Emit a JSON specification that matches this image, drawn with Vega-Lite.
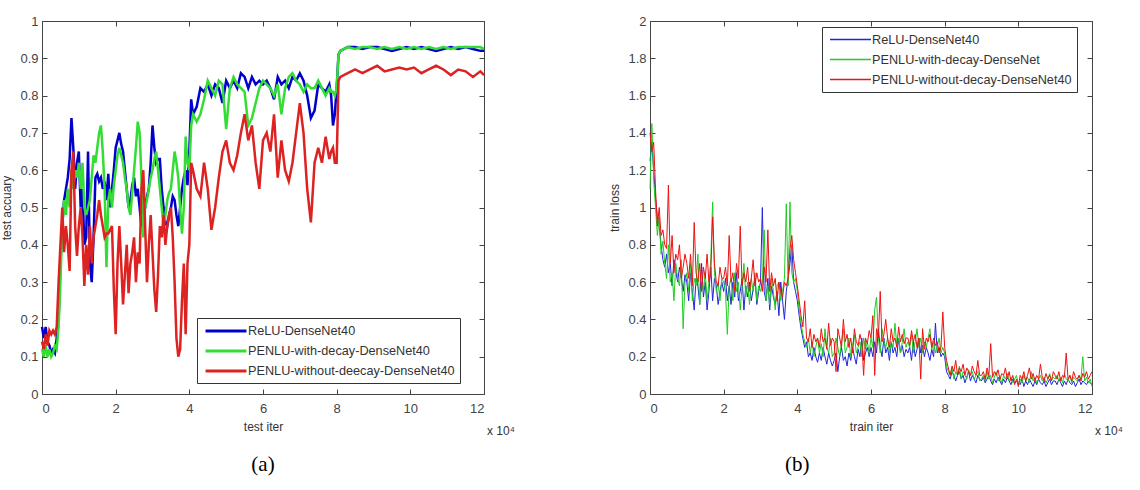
{
"$schema": "https://vega.github.io/schema/vega-lite/v6.json",
"background": "white",
"padding": {"left": 0, "top": 14, "right": 0, "bottom": 0},
"spacing": 166,
"bounds": "flush",
"config": {
  "view": {"stroke": "#444", "strokeWidth": 1},
  "font": "Liberation Sans",
  "axis": {"grid": false, "domain": false, "tickColor": "#444", "tickSize": -5, "labelColor": "#444", "labelFont": "Liberation Sans", "labelFontSize": 13, "titleFont": "Liberation Sans", "titleFontSize": 12, "titleFontWeight": "normal", "titleColor": "#333"},
  "legend": {"orient": "none", "strokeColor": "#333", "fillColor": "#ffffff", "padding": 5, "symbolType": "M-3.15,0H3.15", "symbolSize": 169, "labelFont": "Liberation Sans", "labelFontSize": 12.7, "labelColor": "#333", "labelLimit": 400, "rowPadding": 5, "symbolOffset": 16, "labelOffset": 14}
},
"datasets": {
"acc": [
{"x":0,"a":0.18,"b":0.12,"c":0.14},{"x":0.05,"a":0.15,"b":0.10,"c":0.12},{"x":0.1,"a":0.18,"b":0.13,"c":0.16},{"x":0.15,"a":0.14,"b":0.10,"c":0.13},{"x":0.2,"a":0.13,"b":0.12,"c":0.17},{"x":0.25,"a":0.11,"b":0.10,"c":0.16},{"x":0.3,"a":0.12,"b":0.11,"c":0.17},{"x":0.35,"a":0.11,"b":0.13,"c":0.16},{"x":0.4,"a":0.15,"b":0.12,"c":0.18},{"x":0.45,"a":0.20,"b":0.18,"c":0.30},
{"x":0.5,"a":0.35,"b":0.30,"c":0.40},{"x":0.55,"a":0.45,"b":0.45,"c":0.50},{"x":0.6,"a":0.52,"b":0.52,"c":0.38},{"x":0.65,"a":0.55,"b":0.48,"c":0.45},{"x":0.7,"a":0.58,"b":0.55,"c":0.40},{"x":0.75,"a":0.63,"b":0.50,"c":0.33},{"x":0.8,"a":0.74,"b":0.60,"c":0.60},{"x":0.85,"a":0.66,"b":0.55,"c":0.65},{"x":0.9,"a":0.55,"b":0.60,"c":0.45},{"x":0.95,"a":0.62,"b":0.58,"c":0.37},
{"x":1.0,"a":0.65,"b":0.62,"c":0.45},{"x":1.05,"a":0.50,"b":0.55,"c":0.50},{"x":1.1,"a":0.55,"b":0.62,"c":0.42},{"x":1.15,"a":0.40,"b":0.50,"c":0.29},{"x":1.2,"a":0.42,"b":0.48,"c":0.40},{"x":1.25,"a":0.65,"b":0.50,"c":0.32},{"x":1.3,"a":0.35,"b":0.52,"c":0.45},{"x":1.35,"a":0.30,"b":0.58,"c":0.35},{"x":1.4,"a":0.42,"b":0.64,"c":0.42},{"x":1.45,"a":0.58,"b":0.62,"c":0.45},
{"x":1.5,"a":0.59,"b":0.66,"c":0.48},{"x":1.55,"a":0.57,"b":0.70,"c":0.52},{"x":1.6,"a":0.58,"b":0.72,"c":0.48},{"x":1.65,"a":0.55,"b":0.65,"c":0.45},{"x":1.7,"a":0.57,"b":0.55,"c":0.42},{"x":1.75,"a":0.52,"b":0.34,"c":0.43},{"x":1.8,"a":0.59,"b":0.52,"c":0.43},{"x":1.85,"a":0.50,"b":0.55,"c":0.44},{"x":1.9,"a":0.55,"b":0.50,"c":0.45},{"x":1.95,"a":0.60,"b":0.56,"c":0.28},
{"x":2.0,"a":0.66,"b":0.60,"c":0.16},{"x":2.05,"a":0.68,"b":0.64,"c":0.35},{"x":2.1,"a":0.70,"b":0.66,"c":0.45},{"x":2.15,"a":0.67,"b":0.64,"c":0.35},{"x":2.2,"a":0.65,"b":0.62,"c":0.24},{"x":2.25,"a":0.60,"b":0.58,"c":0.32},{"x":2.3,"a":0.55,"b":0.55,"c":0.40},{"x":2.35,"a":0.50,"b":0.50,"c":0.27},{"x":2.4,"a":0.52,"b":0.48,"c":0.35},{"x":2.45,"a":0.56,"b":0.54,"c":0.38},
{"x":2.5,"a":0.58,"b":0.60,"c":0.42},{"x":2.55,"a":0.53,"b":0.66,"c":0.30},{"x":2.6,"a":0.55,"b":0.73,"c":0.38},{"x":2.65,"a":0.50,"b":0.70,"c":0.35},{"x":2.7,"a":0.45,"b":0.58,"c":0.55},{"x":2.75,"a":0.48,"b":0.42,"c":0.60},{"x":2.8,"a":0.50,"b":0.50,"c":0.45},{"x":2.85,"a":0.53,"b":0.52,"c":0.30},{"x":2.9,"a":0.55,"b":0.55,"c":0.40},{"x":2.95,"a":0.62,"b":0.58,"c":0.48},
{"x":3.0,"a":0.72,"b":0.60,"c":0.38},{"x":3.05,"a":0.66,"b":0.63,"c":0.28},{"x":3.1,"a":0.62,"b":0.65,"c":0.22},{"x":3.15,"a":0.63,"b":0.60,"c":0.32},{"x":3.2,"a":0.63,"b":0.55,"c":0.45},{"x":3.25,"a":0.55,"b":0.50,"c":0.42},{"x":3.3,"a":0.50,"b":0.45,"c":0.48},{"x":3.35,"a":0.46,"b":0.48,"c":0.40},{"x":3.4,"a":0.45,"b":0.52,"c":0.45},{"x":3.45,"a":0.48,"b":0.54,"c":0.48},
{"x":3.5,"a":0.50,"b":0.55,"c":0.50},{"x":3.55,"a":0.53,"b":0.60,"c":0.42},{"x":3.6,"a":0.52,"b":0.65,"c":0.30},{"x":3.65,"a":0.48,"b":0.62,"c":0.15},{"x":3.7,"a":0.45,"b":0.58,"c":0.10},{"x":3.75,"a":0.50,"b":0.50,"c":0.12},{"x":3.8,"a":0.55,"b":0.43,"c":0.25},{"x":3.85,"a":0.58,"b":0.50,"c":0.35},{"x":3.9,"a":0.60,"b":0.69,"c":0.16},{"x":3.95,"a":0.56,"b":0.62,"c":0.35},
{"x":4.0,"a":0.65,"b":0.60,"c":0.40},{"x":4.05,"a":0.79,"b":0.72,"c":0.62},{"x":4.1,"a":0.75,"b":0.75,"c":0.60},{"x":4.2,"a":0.77,"b":0.73,"c":0.55},{"x":4.3,"a":0.82,"b":0.75,"c":0.53},{"x":4.4,"a":0.81,"b":0.79,"c":0.62},{"x":4.5,"a":0.83,"b":0.84,"c":0.55},{"x":4.6,"a":0.80,"b":0.82,"c":0.44},{"x":4.7,"a":0.83,"b":0.80,"c":0.50},{"x":4.8,"a":0.82,"b":0.84,"c":0.58},{"x":4.9,"a":0.78,"b":0.83,"c":0.65},
{"x":5.0,"a":0.84,"b":0.71,"c":0.68},{"x":5.1,"a":0.82,"b":0.82,"c":0.62},{"x":5.2,"a":0.84,"b":0.85,"c":0.60},{"x":5.3,"a":0.82,"b":0.83,"c":0.64},{"x":5.4,"a":0.86,"b":0.82,"c":0.70},{"x":5.5,"a":0.85,"b":0.81,"c":0.75},{"x":5.6,"a":0.82,"b":0.72,"c":0.68},{"x":5.7,"a":0.85,"b":0.74,"c":0.72},{"x":5.8,"a":0.83,"b":0.78,"c":0.62},{"x":5.9,"a":0.84,"b":0.82,"c":0.55},
{"x":6.0,"a":0.83,"b":0.84,"c":0.68},{"x":6.1,"a":0.84,"b":0.83,"c":0.70},{"x":6.2,"a":0.82,"b":0.82,"c":0.65},{"x":6.3,"a":0.79,"b":0.80,"c":0.75},{"x":6.4,"a":0.85,"b":0.83,"c":0.58},{"x":6.5,"a":0.83,"b":0.75,"c":0.68},{"x":6.6,"a":0.84,"b":0.82,"c":0.60},{"x":6.7,"a":0.82,"b":0.85,"c":0.57},{"x":6.8,"a":0.85,"b":0.86,"c":0.62},{"x":6.9,"a":0.84,"b":0.84,"c":0.70},
{"x":7.0,"a":0.86,"b":0.83,"c":0.78},{"x":7.1,"a":0.84,"b":0.81,"c":0.70},{"x":7.2,"a":0.80,"b":0.83,"c":0.55},{"x":7.3,"a":0.74,"b":0.82,"c":0.46},{"x":7.4,"a":0.76,"b":0.82,"c":0.62},{"x":7.5,"a":0.83,"b":0.84,"c":0.66},{"x":7.6,"a":0.82,"b":0.82,"c":0.62},{"x":7.7,"a":0.81,"b":0.80,"c":0.69},{"x":7.8,"a":0.83,"b":0.82,"c":0.63},{"x":7.85,"a":0.80,"b":0.81,"c":0.65},{"x":7.9,"a":0.72,"b":0.81,"c":0.66},{"x":7.95,"a":0.75,"b":0.80,"c":0.62},
{"x":8.0,"a":0.82,"b":0.82,"c":0.62},{"x":8.05,"a":0.91,"b":0.91,"c":0.84},{"x":8.1,"a":0.92,"b":0.92,"c":0.85},{"x":8.3,"a":0.93,"b":0.93,"c":0.86},{"x":8.5,"a":0.93,"b":0.925,"c":0.87},{"x":8.7,"a":0.925,"b":0.93,"c":0.86},{"x":8.9,"a":0.93,"b":0.93,"c":0.87},{"x":9.1,"a":0.93,"b":0.925,"c":0.88},{"x":9.3,"a":0.925,"b":0.93,"c":0.865},{"x":9.5,"a":0.92,"b":0.925,"c":0.87},
{"x":9.7,"a":0.925,"b":0.93,"c":0.875},{"x":9.9,"a":0.93,"b":0.925,"c":0.87},{"x":10.1,"a":0.925,"b":0.93,"c":0.875},{"x":10.3,"a":0.93,"b":0.925,"c":0.86},{"x":10.5,"a":0.925,"b":0.93,"c":0.87},{"x":10.7,"a":0.92,"b":0.925,"c":0.88},{"x":10.9,"a":0.925,"b":0.93,"c":0.87},{"x":11.1,"a":0.93,"b":0.925,"c":0.855},{"x":11.3,"a":0.925,"b":0.93,"c":0.87},{"x":11.5,"a":0.93,"b":0.93,"c":0.865},{"x":11.7,"a":0.925,"b":0.93,"c":0.85},{"x":11.9,"a":0.92,"b":0.93,"c":0.865},{"x":12,"a":0.92,"b":0.925,"c":0.855}
],
"loss": [
{"x":0,"a":1.25,"b":1.1,"c":1.4},{"x":0.05,"a":1.35,"b":1.45,"c":1.3},{"x":0.1,"a":1.2,"b":1.15,"c":1.35},{"x":0.15,"a":1.05,"b":1.0,"c":1.1},{"x":0.2,"a":0.95,"b":0.85,"c":0.9},{"x":0.25,"a":0.9,"b":0.95,"c":1.0},{"x":0.3,"a":0.8,"b":0.75,"c":0.85},{"x":0.35,"a":0.72,"b":0.82,"c":0.88},{"x":0.4,"a":0.68,"b":0.7,"c":0.8},{"x":0.45,"a":0.75,"b":0.62,"c":0.78},
{"x":0.5,"a":0.65,"b":0.8,"c":1.12},{"x":0.55,"a":0.7,"b":0.6,"c":0.7},{"x":0.6,"a":0.58,"b":0.65,"c":0.85},{"x":0.65,"a":0.72,"b":0.5,"c":0.65},{"x":0.7,"a":0.66,"b":0.7,"c":0.75},{"x":0.75,"a":0.6,"b":0.62,"c":0.72},{"x":0.8,"a":0.68,"b":0.58,"c":0.8},{"x":0.85,"a":0.62,"b":0.72,"c":0.62},{"x":0.9,"a":0.55,"b":0.35,"c":0.68},{"x":0.95,"a":0.64,"b":0.6,"c":0.75},
{"x":1.0,"a":0.6,"b":0.65,"c":0.7},{"x":1.05,"a":0.5,"b":0.55,"c":0.62},{"x":1.1,"a":0.65,"b":0.7,"c":0.75},{"x":1.15,"a":0.55,"b":0.5,"c":0.58},{"x":1.2,"a":0.45,"b":0.62,"c":0.92},{"x":1.25,"a":0.62,"b":0.58,"c":0.65},{"x":1.3,"a":0.58,"b":0.75,"c":0.6},{"x":1.35,"a":0.48,"b":0.48,"c":0.7},{"x":1.4,"a":0.7,"b":0.6,"c":0.55},{"x":1.45,"a":0.52,"b":0.55,"c":0.68},
{"x":1.5,"a":0.6,"b":0.65,"c":0.62},{"x":1.55,"a":0.45,"b":0.5,"c":0.75},{"x":1.6,"a":0.55,"b":0.6,"c":0.6},{"x":1.65,"a":0.68,"b":0.72,"c":0.65},{"x":1.7,"a":0.5,"b":1.03,"c":0.95},{"x":1.75,"a":0.62,"b":0.65,"c":0.7},{"x":1.8,"a":0.58,"b":0.55,"c":0.6},{"x":1.85,"a":0.48,"b":0.6,"c":0.58},{"x":1.9,"a":0.55,"b":0.5,"c":0.68},{"x":1.95,"a":0.6,"b":0.62,"c":0.62},
{"x":2.0,"a":0.55,"b":0.6,"c":0.62},{"x":2.05,"a":0.62,"b":0.55,"c":0.68},{"x":2.1,"a":0.5,"b":0.32,"c":0.58},{"x":2.15,"a":0.58,"b":0.58,"c":0.85},{"x":2.2,"a":0.48,"b":0.62,"c":0.6},{"x":2.25,"a":0.6,"b":0.5,"c":0.65},{"x":2.3,"a":0.52,"b":0.65,"c":0.55},{"x":2.35,"a":0.65,"b":0.55,"c":0.7},{"x":2.4,"a":0.5,"b":0.6,"c":0.62},{"x":2.45,"a":0.55,"b":0.45,"c":0.9},
{"x":2.5,"a":0.62,"b":0.58,"c":0.58},{"x":2.55,"a":0.45,"b":0.7,"c":0.65},{"x":2.6,"a":0.58,"b":0.52,"c":0.6},{"x":2.65,"a":0.52,"b":0.6,"c":0.68},{"x":2.7,"a":0.6,"b":0.48,"c":0.55},{"x":2.75,"a":0.5,"b":0.62,"c":0.62},{"x":2.8,"a":0.56,"b":0.55,"c":0.72},{"x":2.85,"a":0.62,"b":0.65,"c":0.58},{"x":2.9,"a":0.48,"b":0.5,"c":0.65},{"x":2.95,"a":0.55,"b":0.58,"c":0.6},
{"x":3.0,"a":0.6,"b":0.55,"c":0.62},{"x":3.05,"a":1.0,"b":0.6,"c":0.55},{"x":3.1,"a":0.55,"b":0.88,"c":0.68},{"x":3.15,"a":0.5,"b":0.5,"c":0.6},{"x":3.2,"a":0.62,"b":0.58,"c":0.88},{"x":3.25,"a":0.45,"b":0.48,"c":0.55},{"x":3.3,"a":0.58,"b":0.62,"c":0.65},{"x":3.35,"a":0.52,"b":0.55,"c":0.58},{"x":3.4,"a":0.48,"b":0.45,"c":0.62},{"x":3.45,"a":0.55,"b":0.58,"c":0.5},
{"x":3.5,"a":0.42,"b":0.6,"c":0.6},{"x":3.55,"a":0.6,"b":0.5,"c":0.55},{"x":3.6,"a":0.5,"b":0.55,"c":0.52},{"x":3.65,"a":0.4,"b":0.62,"c":0.6},{"x":3.7,"a":0.55,"b":1.02,"c":0.58},{"x":3.75,"a":0.62,"b":0.58,"c":0.62},{"x":3.8,"a":0.7,"b":1.03,"c":0.78},{"x":3.85,"a":0.8,"b":0.65,"c":0.85},{"x":3.9,"a":0.6,"b":0.6,"c":0.72},{"x":3.95,"a":0.55,"b":0.62,"c":0.65},
{"x":4.0,"a":0.5,"b":0.55,"c":0.58},{"x":4.05,"a":0.42,"b":0.45,"c":0.5},{"x":4.1,"a":0.35,"b":0.38,"c":0.42},{"x":4.15,"a":0.3,"b":0.32,"c":0.36},{"x":4.2,"a":0.25,"b":0.28,"c":0.5},{"x":4.25,"a":0.28,"b":0.25,"c":0.3},{"x":4.3,"a":0.2,"b":0.3,"c":0.28},{"x":4.35,"a":0.22,"b":0.22,"c":0.35},{"x":4.4,"a":0.18,"b":0.28,"c":0.25},{"x":4.45,"a":0.25,"b":0.2,"c":0.32},
{"x":4.5,"a":0.2,"b":0.25,"c":0.28},{"x":4.55,"a":0.17,"b":0.3,"c":0.3},{"x":4.6,"a":0.22,"b":0.22,"c":0.25},{"x":4.65,"a":0.18,"b":0.27,"c":0.35},{"x":4.7,"a":0.25,"b":0.2,"c":0.28},{"x":4.75,"a":0.2,"b":0.35,"c":0.3},{"x":4.8,"a":0.16,"b":0.25,"c":0.24},{"x":4.85,"a":0.22,"b":0.22,"c":0.38},{"x":4.9,"a":0.18,"b":0.3,"c":0.26},{"x":4.95,"a":0.15,"b":0.2,"c":0.3},
{"x":5.0,"a":0.18,"b":0.22,"c":0.28},{"x":5.05,"a":0.22,"b":0.3,"c":0.12},{"x":5.1,"a":0.12,"b":0.25,"c":0.35},{"x":5.15,"a":0.2,"b":0.2,"c":0.3},{"x":5.2,"a":0.25,"b":0.28,"c":0.25},{"x":5.25,"a":0.18,"b":0.35,"c":0.4},{"x":5.3,"a":0.2,"b":0.22,"c":0.28},{"x":5.35,"a":0.15,"b":0.25,"c":0.32},{"x":5.4,"a":0.22,"b":0.3,"c":0.25},{"x":5.45,"a":0.18,"b":0.2,"c":0.3},
{"x":5.5,"a":0.25,"b":0.26,"c":0.22},{"x":5.55,"a":0.2,"b":0.32,"c":0.35},{"x":5.6,"a":0.16,"b":0.22,"c":0.28},{"x":5.65,"a":0.24,"b":0.25,"c":0.26},{"x":5.7,"a":0.2,"b":0.28,"c":0.32},{"x":5.75,"a":0.3,"b":0.2,"c":0.28},{"x":5.8,"a":0.18,"b":0.3,"c":0.1},{"x":5.85,"a":0.22,"b":0.24,"c":0.3},{"x":5.9,"a":0.25,"b":0.28,"c":0.27},{"x":5.95,"a":0.2,"b":0.22,"c":0.34},
{"x":6.0,"a":0.25,"b":0.3,"c":0.3},{"x":6.05,"a":0.2,"b":0.25,"c":0.42},{"x":6.1,"a":0.28,"b":0.45,"c":0.1},{"x":6.15,"a":0.22,"b":0.52,"c":0.35},{"x":6.2,"a":0.35,"b":0.3,"c":0.3},{"x":6.25,"a":0.25,"b":0.22,"c":0.55},{"x":6.3,"a":0.2,"b":0.35,"c":0.28},{"x":6.35,"a":0.3,"b":0.28,"c":0.32},{"x":6.4,"a":0.22,"b":0.25,"c":0.4},{"x":6.45,"a":0.25,"b":0.3,"c":0.3},
{"x":6.5,"a":0.18,"b":0.22,"c":0.25},{"x":6.55,"a":0.28,"b":0.28,"c":0.35},{"x":6.6,"a":0.22,"b":0.25,"c":0.28},{"x":6.65,"a":0.25,"b":0.38,"c":0.3},{"x":6.7,"a":0.2,"b":0.26,"c":0.25},{"x":6.75,"a":0.3,"b":0.3,"c":0.36},{"x":6.8,"a":0.22,"b":0.22,"c":0.28},{"x":6.85,"a":0.26,"b":0.28,"c":0.32},{"x":6.9,"a":0.2,"b":0.35,"c":0.27},{"x":6.95,"a":0.24,"b":0.25,"c":0.3},
{"x":7.0,"a":0.22,"b":0.28,"c":0.3},{"x":7.05,"a":0.25,"b":0.25,"c":0.26},{"x":7.1,"a":0.18,"b":0.32,"c":0.34},{"x":7.15,"a":0.28,"b":0.22,"c":0.28},{"x":7.2,"a":0.2,"b":0.28,"c":0.32},{"x":7.25,"a":0.24,"b":0.35,"c":0.25},{"x":7.3,"a":0.3,"b":0.25,"c":0.3},{"x":7.35,"a":0.22,"b":0.3,"c":0.08},{"x":7.4,"a":0.26,"b":0.22,"c":0.35},{"x":7.45,"a":0.2,"b":0.28,"c":0.24},
{"x":7.5,"a":0.25,"b":0.25,"c":0.3},{"x":7.55,"a":0.22,"b":0.3,"c":0.28},{"x":7.6,"a":0.18,"b":0.35,"c":0.32},{"x":7.65,"a":0.24,"b":0.24,"c":0.25},{"x":7.7,"a":0.2,"b":0.28,"c":0.3},{"x":7.75,"a":0.38,"b":0.22,"c":0.26},{"x":7.8,"a":0.22,"b":0.26,"c":0.28},{"x":7.85,"a":0.25,"b":0.3,"c":0.22},{"x":7.9,"a":0.2,"b":0.22,"c":0.25},{"x":7.95,"a":0.22,"b":0.25,"c":0.44},
{"x":8.0,"a":0.2,"b":0.22,"c":0.25},{"x":8.05,"a":0.12,"b":0.15,"c":0.18},{"x":8.1,"a":0.1,"b":0.12,"c":0.14},{"x":8.15,"a":0.08,"b":0.1,"c":0.1},{"x":8.2,"a":0.12,"b":0.14,"c":0.15},{"x":8.25,"a":0.1,"b":0.08,"c":0.12},{"x":8.3,"a":0.07,"b":0.12,"c":0.18},{"x":8.35,"a":0.1,"b":0.1,"c":0.1},{"x":8.4,"a":0.12,"b":0.15,"c":0.14},{"x":8.45,"a":0.08,"b":0.08,"c":0.12},
{"x":8.5,"a":0.1,"b":0.12,"c":0.16},{"x":8.55,"a":0.06,"b":0.1,"c":0.1},{"x":8.6,"a":0.09,"b":0.08,"c":0.14},{"x":8.65,"a":0.12,"b":0.13,"c":0.12},{"x":8.7,"a":0.07,"b":0.1,"c":0.1},{"x":8.75,"a":0.1,"b":0.12,"c":0.15},{"x":8.8,"a":0.08,"b":0.08,"c":0.12},{"x":8.85,"a":0.06,"b":0.1,"c":0.1},{"x":8.9,"a":0.1,"b":0.12,"c":0.18},{"x":8.95,"a":0.08,"b":0.07,"c":0.1},
{"x":9.0,"a":0.07,"b":0.08,"c":0.1},{"x":9.05,"a":0.09,"b":0.1,"c":0.12},{"x":9.1,"a":0.06,"b":0.07,"c":0.08},{"x":9.15,"a":0.08,"b":0.12,"c":0.14},{"x":9.2,"a":0.1,"b":0.08,"c":0.1},{"x":9.25,"a":0.07,"b":0.1,"c":0.27},{"x":9.3,"a":0.05,"b":0.06,"c":0.09},{"x":9.35,"a":0.08,"b":0.09,"c":0.12},{"x":9.4,"a":0.06,"b":0.12,"c":0.1},{"x":9.45,"a":0.09,"b":0.07,"c":0.13},
{"x":9.5,"a":0.07,"b":0.09,"c":0.08},{"x":9.55,"a":0.05,"b":0.06,"c":0.11},{"x":9.6,"a":0.08,"b":0.1,"c":0.1},{"x":9.65,"a":0.06,"b":0.08,"c":0.14},{"x":9.7,"a":0.09,"b":0.11,"c":0.08},{"x":9.75,"a":0.07,"b":0.07,"c":0.12},{"x":9.8,"a":0.05,"b":0.09,"c":0.07},{"x":9.85,"a":0.08,"b":0.06,"c":0.1},{"x":9.9,"a":0.06,"b":0.08,"c":0.05},{"x":9.95,"a":0.07,"b":0.1,"c":0.08},
{"x":10.0,"a":0.06,"b":0.05,"c":0.04},{"x":10.05,"a":0.05,"b":0.08,"c":0.1},{"x":10.1,"a":0.08,"b":0.06,"c":0.08},{"x":10.15,"a":0.04,"b":0.1,"c":0.12},{"x":10.2,"a":0.07,"b":0.07,"c":0.07},{"x":10.25,"a":0.05,"b":0.09,"c":0.1},{"x":10.3,"a":0.08,"b":0.06,"c":0.14},{"x":10.35,"a":0.06,"b":0.12,"c":0.08},{"x":10.4,"a":0.04,"b":0.07,"c":0.11},{"x":10.45,"a":0.07,"b":0.09,"c":0.07},
{"x":10.5,"a":0.05,"b":0.06,"c":0.1},{"x":10.55,"a":0.08,"b":0.08,"c":0.08},{"x":10.6,"a":0.06,"b":0.1,"c":0.16},{"x":10.65,"a":0.05,"b":0.07,"c":0.09},{"x":10.7,"a":0.07,"b":0.09,"c":0.07},{"x":10.75,"a":0.04,"b":0.06,"c":0.11},{"x":10.8,"a":0.06,"b":0.08,"c":0.08},{"x":10.85,"a":0.08,"b":0.11,"c":0.1},{"x":10.9,"a":0.05,"b":0.07,"c":0.07},{"x":10.95,"a":0.07,"b":0.09,"c":0.12},
{"x":11.0,"a":0.07,"b":0.08,"c":0.1},{"x":11.05,"a":0.05,"b":0.1,"c":0.08},{"x":11.1,"a":0.08,"b":0.07,"c":0.12},{"x":11.15,"a":0.06,"b":0.09,"c":0.07},{"x":11.2,"a":0.04,"b":0.06,"c":0.1},{"x":11.25,"a":0.07,"b":0.11,"c":0.09},{"x":11.3,"a":0.05,"b":0.08,"c":0.22},{"x":11.35,"a":0.08,"b":0.07,"c":0.08},{"x":11.4,"a":0.06,"b":0.1,"c":0.1},{"x":11.45,"a":0.05,"b":0.06,"c":0.07},
{"x":11.5,"a":0.07,"b":0.09,"c":0.12},{"x":11.55,"a":0.04,"b":0.08,"c":0.09},{"x":11.6,"a":0.06,"b":0.07,"c":0.08},{"x":11.65,"a":0.08,"b":0.1,"c":0.1},{"x":11.7,"a":0.05,"b":0.08,"c":0.07},{"x":11.75,"a":0.07,"b":0.2,"c":0.11},{"x":11.8,"a":0.06,"b":0.07,"c":0.09},{"x":11.85,"a":0.05,"b":0.09,"c":0.12},{"x":11.9,"a":0.07,"b":0.06,"c":0.08},{"x":11.95,"a":0.06,"b":0.08,"c":0.1},{"x":12,"a":0.05,"b":0.04,"c":0.12}
]
},
"resolve": {"scale": {"color": "independent"}, "legend": {"color": "independent"}},
"hconcat": [
{
  "width": 442, "height": 373,
  "resolve": {"axis": {"x": "independent", "y": "independent"}},
  "layer": [
    {
      "data": {"name": "acc"},
      "transform": [{"fold": ["a", "b", "c"], "as": ["s", "v"]}],
      "mark": {"type": "line", "strokeWidth": 2.5},
      "encoding": {
        "x": {"field": "x", "type": "quantitative", "scale": {"domain": [0, 12], "nice": false}, "axis": {"orient": "bottom", "values": [0,2,4,6,8,10,12], "title": "test iter", "labelPadding": 13, "titlePadding": 6}},
        "y": {"field": "v", "type": "quantitative", "scale": {"domain": [0, 1], "nice": false}, "axis": {"orient": "left", "values": [0,0.1,0.2,0.3,0.4,0.5,0.6,0.7,0.8,0.9,1], "format": "~g", "title": "test accuary", "labelPadding": 9, "titlePadding": 6}},
        "color": {"field": "s", "type": "nominal", "scale": {"domain": ["a", "b", "c"], "range": ["#0000cc", "#33dd33", "#dd2222"]}, "legend": {"title": null, "legendX": 155, "legendY": 297, "symbolStrokeWidth": 3, "labelExpr": "datum.label == 'a' ? 'ReLU-DenseNet40' : datum.label == 'b' ? 'PENLU-with-decay-DenseNet40' : 'PENLU-without-deecay-DenseNet40'"}}
      }
    },
    {
      "data": {"values": [{}]},
      "mark": {"type": "text", "text": "x 10⁴", "align": "left", "baseline": "middle", "dx": 3, "fontSize": 12, "color": "#333"},
      "encoding": {
        "x": {"datum": 12, "type": "quantitative", "scale": {"domain": [0, 12], "nice": false}, "axis": {"orient": "top", "values": [0,2,4,6,8,10,12], "labels": false, "title": null}},
        "y": {"datum": -0.1, "type": "quantitative", "scale": {"domain": [0, 1], "nice": false}, "axis": {"orient": "right", "values": [0,0.1,0.2,0.3,0.4,0.5,0.6,0.7,0.8,0.9,1], "labels": false, "title": null}}
      }
    },
    {
      "data": {"values": [{}]},
      "mark": {"type": "text", "text": "(a)", "font": "Liberation Serif", "fontSize": 21, "color": "#000", "align": "center", "baseline": "middle"},
      "encoding": {
        "x": {"datum": 6, "type": "quantitative", "scale": {"domain": [0, 12], "nice": false}, "axis": null},
        "y": {"datum": -0.19, "type": "quantitative", "scale": {"domain": [0, 1], "nice": false}, "axis": null}
      }
    }
  ]
},
{
  "width": 442, "height": 373,
  "resolve": {"axis": {"x": "independent", "y": "independent"}},
  "layer": [
    {
      "data": {"name": "loss"},
      "transform": [{"fold": ["a", "b", "c"], "as": ["s", "v"]}],
      "mark": {"type": "line", "strokeWidth": 1},
      "encoding": {
        "x": {"field": "x", "type": "quantitative", "scale": {"domain": [0, 12], "nice": false}, "axis": {"orient": "bottom", "values": [0,2,4,6,8,10,12], "title": "train iter", "labelPadding": 13, "titlePadding": 6}},
        "y": {"field": "v", "type": "quantitative", "scale": {"domain": [0, 2], "nice": false}, "axis": {"orient": "left", "values": [0,0.2,0.4,0.6,0.8,1,1.2,1.4,1.6,1.8,2], "format": "~g", "title": "train loss", "labelPadding": 9, "titlePadding": 6}},
        "color": {"field": "s", "type": "nominal", "scale": {"domain": ["a", "b", "c"], "range": ["#2222dd", "#22cc22", "#ee1111"]}, "legend": {"title": null, "legendX": 172, "legendY": 6, "symbolStrokeWidth": 1.5, "labelOffset": 14, "labelExpr": "datum.label == 'a' ? 'ReLU-DenseNet40' : datum.label == 'b' ? 'PENLU-with-decay-DenseNet' : 'PENLU-without-decay-DenseNet40'"}}
      }
    },
    {
      "data": {"values": [{}]},
      "mark": {"type": "text", "text": "x 10⁴", "align": "left", "baseline": "middle", "dx": 3, "fontSize": 12, "color": "#333"},
      "encoding": {
        "x": {"datum": 12, "type": "quantitative", "scale": {"domain": [0, 12], "nice": false}, "axis": {"orient": "top", "values": [0,2,4,6,8,10,12], "labels": false, "title": null}},
        "y": {"datum": -0.2, "type": "quantitative", "scale": {"domain": [0, 2], "nice": false}, "axis": {"orient": "right", "values": [0,0.2,0.4,0.6,0.8,1,1.2,1.4,1.6,1.8,2], "labels": false, "title": null}}
      }
    },
    {
      "data": {"values": [{}]},
      "mark": {"type": "text", "text": "(b)", "font": "Liberation Serif", "fontSize": 21, "color": "#000", "align": "center", "baseline": "middle"},
      "encoding": {
        "x": {"datum": 4, "type": "quantitative", "scale": {"domain": [0, 12], "nice": false}, "axis": null},
        "y": {"datum": -0.38, "type": "quantitative", "scale": {"domain": [0, 2], "nice": false}, "axis": null}
      }
    }
  ]
}
]
}
